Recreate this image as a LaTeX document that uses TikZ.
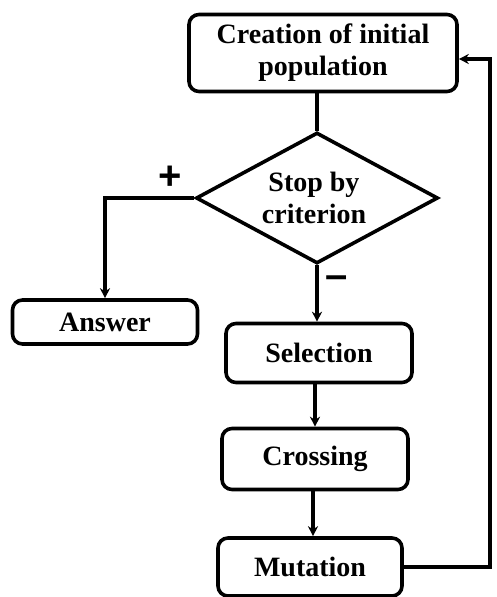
\documentclass[tikz,border=0pt]{standalone}
\usepackage{fontspec}
\setmainfont{Liberation Serif}
\setsansfont{Liberation Sans}
\usetikzlibrary{arrows.meta,shapes.geometric}
\begin{document}
\begin{tikzpicture}[x=1pt,y=-1pt,
  txt/.style={font=\bfseries\fontsize{28}{32}\selectfont,align=center},
  box/.style={draw,line width=3.6pt,rounded corners=10pt,txt,inner sep=0pt},
  conn/.style={line width=3.2pt,-{Stealth[length=10pt,width=10pt]}},
  lbl/.style={font=\sffamily\bfseries\fontsize{40}{40}\selectfont}]
\useasboundingbox (0,0) rectangle (497,597);
\node[box,minimum width=268pt,minimum height=77pt] (init) at (323,53) {Creation of initial\\population};
\node[draw,line width=3.6pt,diamond,aspect=1.85,minimum width=242pt,minimum height=131pt,inner sep=0pt] (stop) at (317,198) {};
\node[txt] (stoptxt) at (314,198) {Stop by\\criterion};
\node[box,minimum width=185pt,minimum height=44pt] (answer) at (105,322) {Answer};
\node[box,minimum width=186pt,minimum height=59pt] (sel) at (319,353) {Selection};
\node[box,minimum width=186pt,minimum height=61pt] (cross) at (315,459) {Crossing};
\node[box,minimum width=184pt,minimum height=58pt] (mut) at (310,567) {Mutation};
\node[lbl] (plus) at (170,178) {+};
\node[lbl] (minus) at (337,282) {–};
\coordinate (tl) at (105,198);
\coordinate (br) at (490,567);
\coordinate (tr) at (490,59);
\draw[line width=3.2pt] (init.south -| stop.north) -- (stop.north);
\draw[conn] (stop.west) -- (tl) -- (answer.north -| tl);
\draw[conn] (stop.south) -- (sel.north -| stop.south);
\draw[conn] (sel.south -| 315,0) -- (cross.north -| 315,0);
\draw[conn] (cross.south -| 313,0) -- (mut.north -| 313,0);
\draw[conn] (mut.east) -- (br) -- (tr) -- (init.east |- tr);
\end{tikzpicture}
\end{document}
